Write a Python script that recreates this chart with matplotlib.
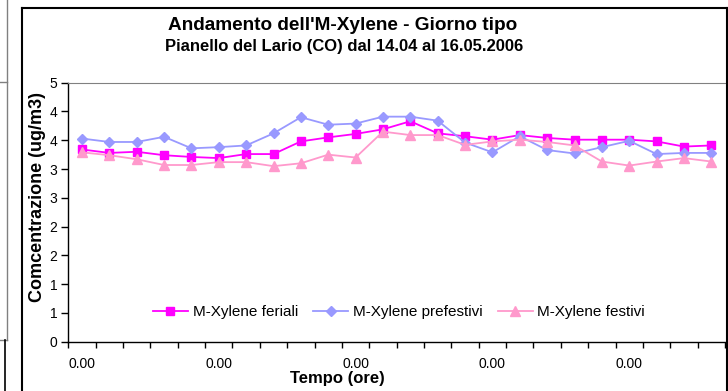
import matplotlib.pyplot as plt
from matplotlib.lines import Line2D
from matplotlib.ticker import FuncFormatter, MultipleLocator

plt.rcParams['font.family'] = ['Liberation Sans', 'DejaVu Sans']

# etichette orarie (tutte "0.00" nel grafico originale)
ore = ["0.00"] * 24

feriali = [3.34, 3.28, 3.30, 3.24, 3.21, 3.19, 3.26, 3.26, 3.48, 3.55, 3.61, 3.69,
           3.83, 3.62, 3.57, 3.51, 3.59, 3.54, 3.51, 3.51, 3.51, 3.48, 3.39, 3.41]
prefestivi = [3.53, 3.47, 3.47, 3.56, 3.36, 3.38, 3.41, 3.62, 3.90, 3.77, 3.79, 3.91,
              3.91, 3.84, 3.46, 3.29, 3.57, 3.33, 3.27, 3.38, 3.49, 3.26, 3.28, 3.28]
festivi = [3.29, 3.24, 3.17, 3.07, 3.07, 3.12, 3.12, 3.05, 3.10, 3.25, 3.20, 3.65,
           3.59, 3.59, 3.42, 3.48, 3.51, 3.47, 3.41, 3.13, 3.06, 3.13, 3.19, 3.13]

fig = plt.figure(figsize=(7.28, 3.91), dpi=100)
W, H = 728, 391
AW = 725 - 68.3
AH = 341.7 - 82.7

ax = fig.add_axes([68.3 / W, 1 - 341.7 / H, AW / W, AH / H])

x = list(range(len(ore)))
ax.plot(x, feriali, color='#FF00FF', marker='s', markersize=5.5, lw=1.3,
        label='M-Xylene feriali')
ax.plot(x, prefestivi, color='#9999FF', marker='D', markersize=5, lw=1.3,
        label='M-Xylene prefestivi')
ax.plot(x, festivi, color='#FF99CC', marker='^', markersize=6.5, lw=1.3,
        label='M-Xylene festivi')

ax.set_ylim(0, 4.5)
ax.set_xlim(-0.5, len(ore) - 0.5)
ax.yaxis.set_major_locator(MultipleLocator(0.5))
ax.yaxis.set_major_formatter(FuncFormatter(lambda v, p: str(int(v + 0.5 + 1e-9))))
ax.tick_params(axis='y', direction='out', length=5, width=1, labelsize=10, pad=3)

ax.set_xticks([i for i in x if i % 5 == 0])
ax.set_xticklabels([ore[i] for i in x if i % 5 == 0])
ax.set_xticks([i - 0.5 for i in range(len(ore) + 1)], minor=True)
ax.tick_params(axis='x', which='major', length=0, labelsize=10, pad=11)
ax.tick_params(axis='x', which='minor', direction='out', length=4, width=1)

ax.spines['right'].set_visible(False)
ax.spines['top'].set_color('#808080')
ax.spines['left'].set_linewidth(1)
ax.spines['bottom'].set_linewidth(1)

ax.set_ylabel('Comcentrazione (ug/m3)', fontsize=13, fontweight='bold')
ax.yaxis.set_label_coords((46 - 68.3) / AW, (341.7 - 197.5) / AH)
ax.set_xlabel('Tempo (ore)', fontsize=12, fontweight='bold')
ax.xaxis.set_label_coords((337.5 - 68.3) / AW, (341.7 - 371) / AH)

ax.legend(loc='center', bbox_to_anchor=((399 - 68.3) / AW, 0.115), ncol=3,
          frameon=False, fontsize=11, handlelength=2.3, handletextpad=0.3,
          columnspacing=1.0)

fig.text(343 / W, 1 - 25 / H, "Andamento dell'M-Xylene - Giorno tipo",
         ha='center', va='center', fontsize=13.7, fontweight='bold')
fig.text(344 / W, 1 - 47 / H, "Pianello del Lario (CO) dal 14.04 al 16.05.2006",
         ha='center', va='center', fontsize=12, fontweight='bold')

# cornice del grafico e resti del grafico accanto
def seg(x0, y0, x1, y1, c, lw):
    fig.add_artist(Line2D([x0 / W, x1 / W], [1 - y0 / H, 1 - y1 / H],
                          color=c, lw=lw, transform=fig.transFigure))

seg(22, 8, 727, 8, 'black', 1.5)
seg(22, 8, 22, 391, 'black', 1.5)
seg(727, 8, 727, 391, 'black', 1.5)
seg(7, 0, 7, 340, '#808080', 1)
seg(0, 82, 7, 82, '#808080', 1)
seg(0, 340, 7, 340, '#808080', 1)
seg(5, 340, 5, 391, 'black', 1.2)

fig.savefig('out.png', dpi=100)
